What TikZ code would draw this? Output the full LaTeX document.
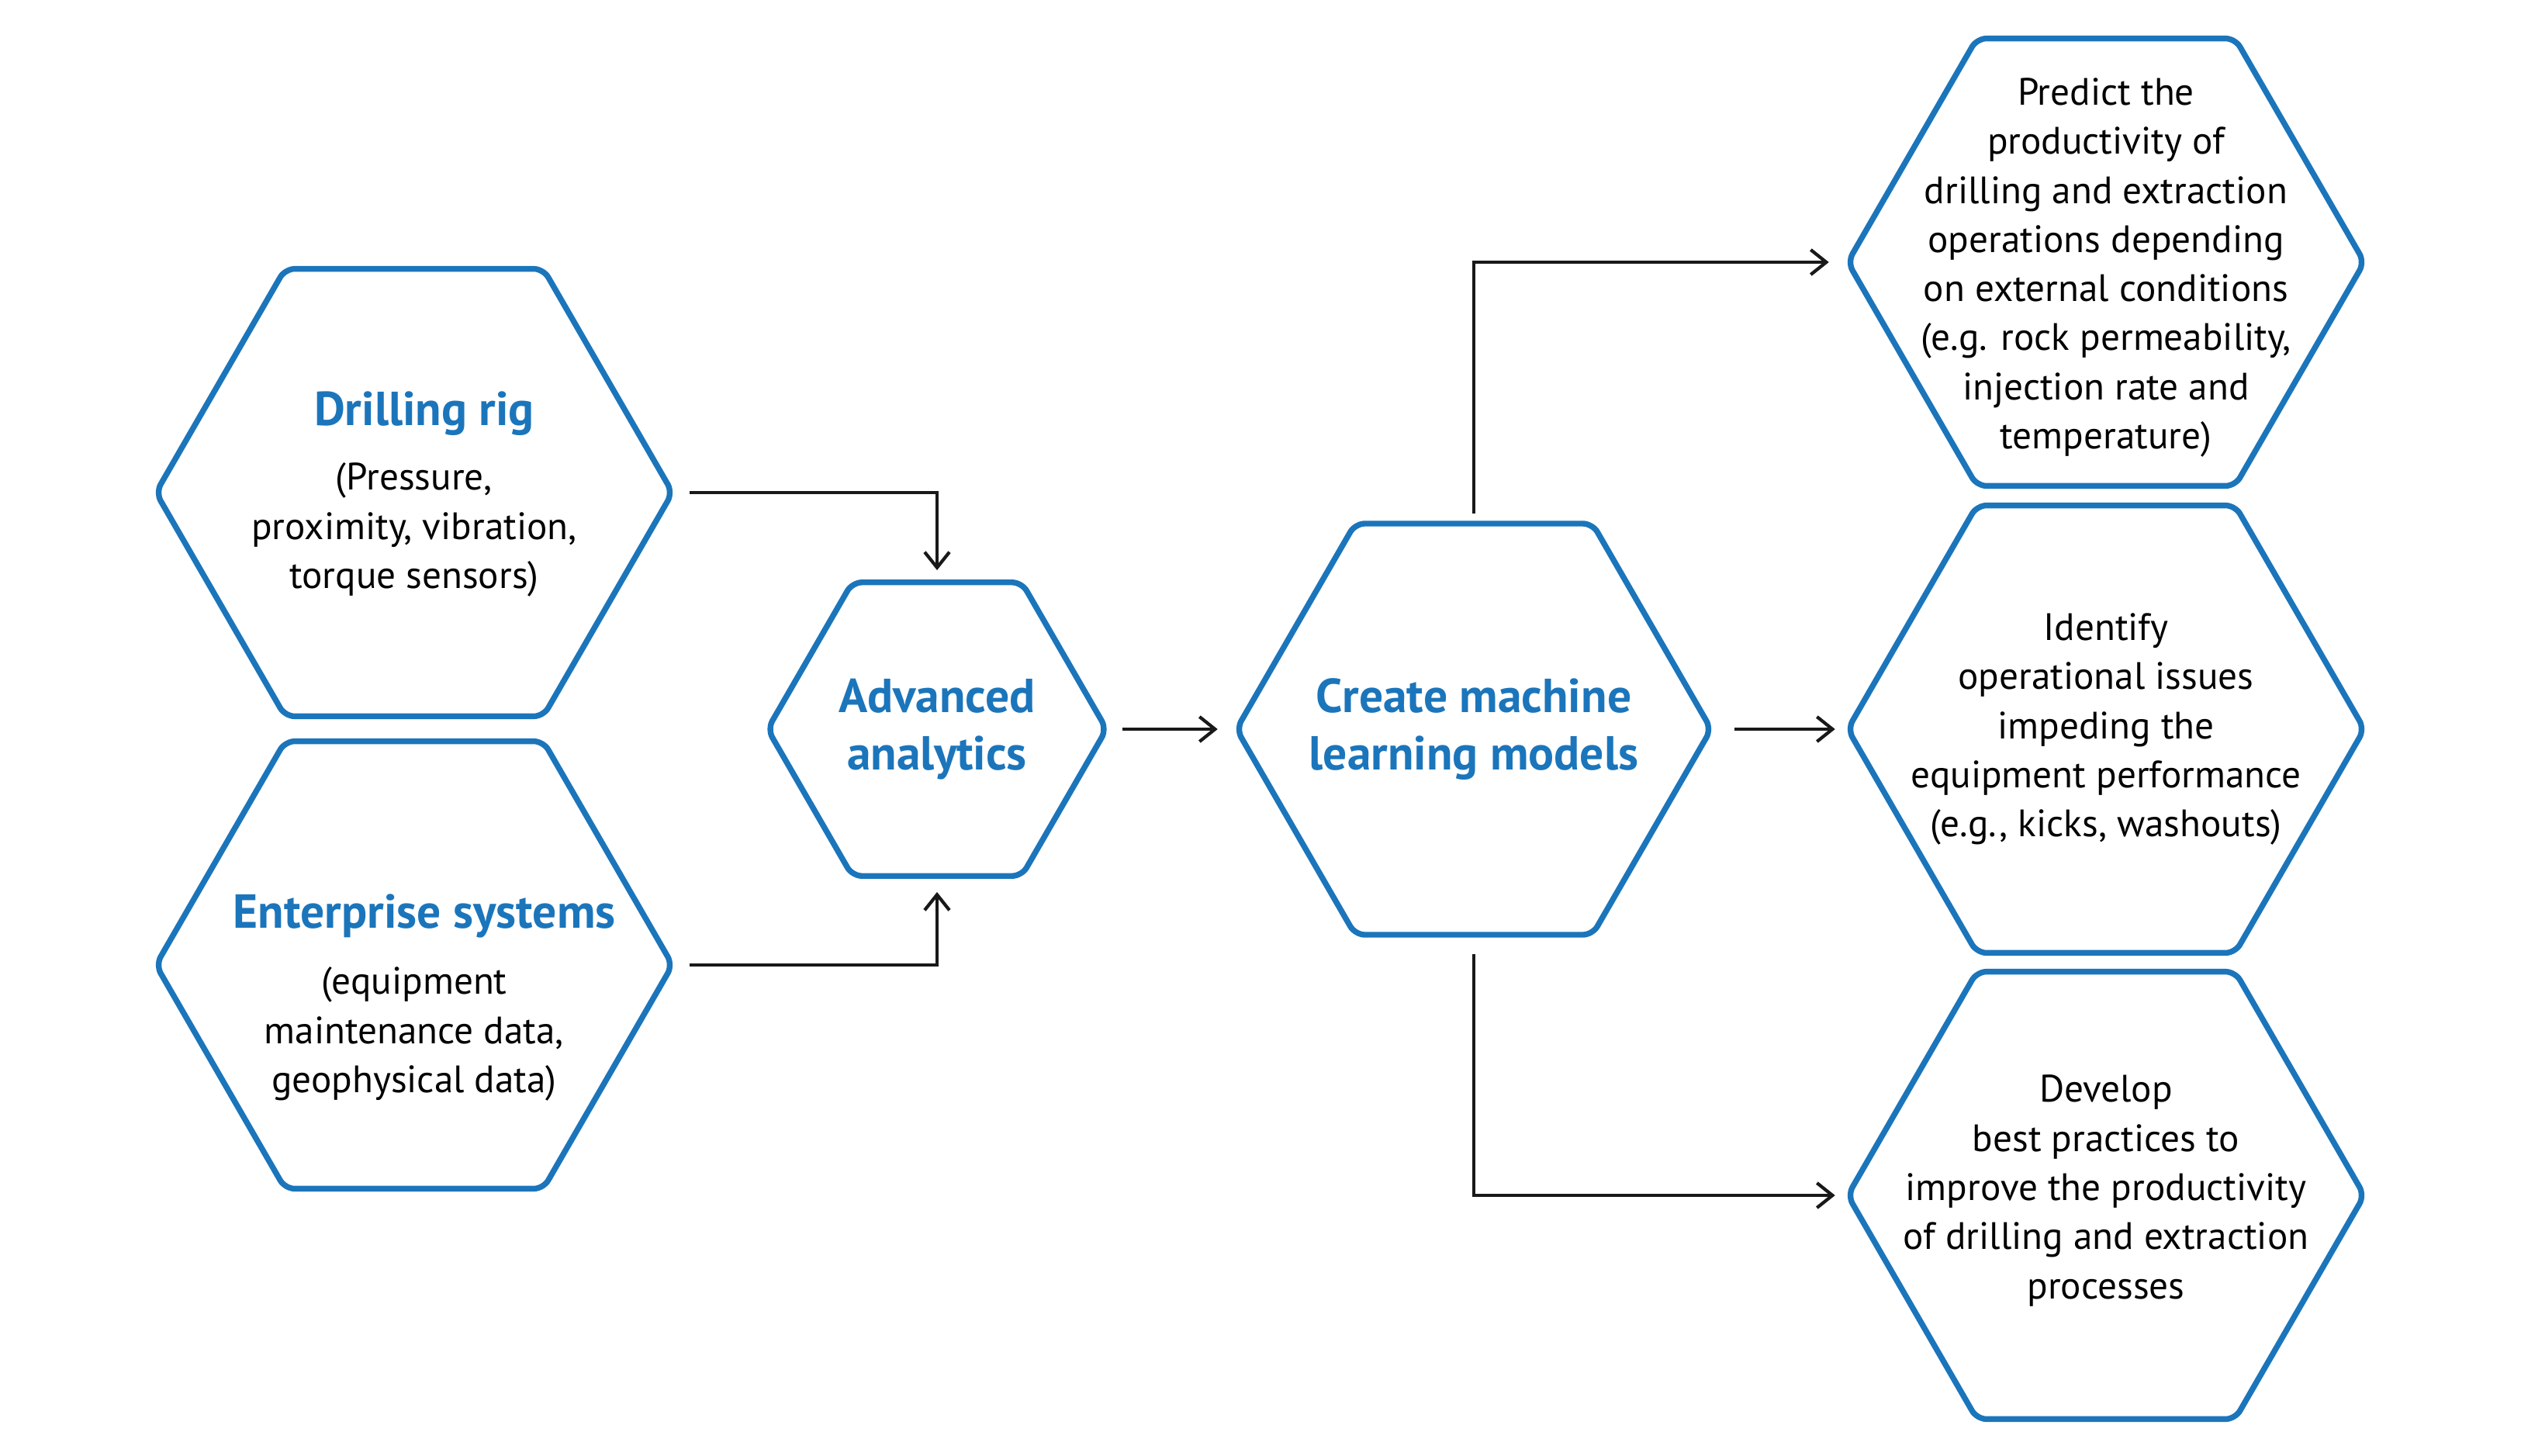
\documentclass[tikz,border=0pt]{standalone}
\usepackage{xcolor}
\usepackage{fontspec}
\setmainfont{PT Sans}
\usetikzlibrary{positioning, shapes.geometric, arrows.meta}
\definecolor{hexblue}{HTML}{1B75BB}

\begin{document}
\begin{tikzpicture}[
    hexbox/.style={regular polygon, regular polygon sides=6, draw=hexblue, line width=2.1pt, rounded corners=3.5pt, inner sep=0pt},
    headtext/.style={font=\fontsize{17.5}{21}\selectfont\bfseries, text=hexblue, align=center},
    bodytext/.style={font=\fontsize{14}{18}\selectfont, align=center},
    arrow/.style={-{Straight Barb[length=2mm, width=3.2mm]}, line width=1.2pt, black!90}
]
    \fill[white] (0,0) rectangle (32.5,-18.76);
    \useasboundingbox (0,0) rectangle (32.5,-18.76);

    % hexagons
    \node[hexbox, minimum size=6.66cm] (rig) at (5.34,-6.35) {};
    \node[hexbox, minimum size=6.66cm] (ent) at (5.34,-12.44) {};
    \node[hexbox, minimum size=4.37cm] (adv) at (12.08,-9.40) {};
    \node[hexbox, minimum size=6.12cm] (ml) at (19.00,-9.40) {};
    \node[hexbox, minimum size=6.66cm] (pred) at (27.15,-3.38) {};
    \node[hexbox, minimum size=6.66cm] (iss) at (27.15,-9.40) {};
    \node[hexbox, minimum size=6.66cm] (best) at (27.15,-15.41) {};

    % texts
    \node[headtext] (righead) at (5.47,-5.33) {Drilling rig};
    \node[bodytext] (rigtext) at (5.34,-6.83) {(Pressure,\\proximity, vibration,\\torque sensors)};
    \node[headtext] (enthead) at (5.47,-11.81) {Enterprise systems};
    \node[bodytext] (enttext) at (5.34,-13.33) {(equipment\\maintenance data,\\geophysical data)};
    \node[headtext] (advtext) at (adv.center) {Advanced\\analytics};
    \node[headtext] (mltext) at (ml.center) {Create machine\\learning models};
    \node[bodytext] (predtext) at (27.15,-3.45) {Predict the\\productivity of\\drilling and extraction\\operations depending\\on external conditions\\(e.g. rock permeability,\\injection rate and\\temperature)};
    \node[bodytext] (isstext) at (iss.center) {Identify\\operational issues\\impeding the\\equipment performance\\(e.g., kicks, washouts)};
    \node[bodytext] (besttext) at (27.15,-15.35) {Develop\\best practices to\\improve the productivity\\of drilling and extraction\\processes};

    % connectors
    \draw[arrow] ([xshift=1.8mm]rig.east) -| ([yshift=1.2mm]adv.north);
    \draw[arrow] ([xshift=1.8mm]ent.east) -| ([yshift=-1.7mm]adv.south);
    \draw[arrow] ([xshift=1.6mm]adv.east) -- ([xshift=-2mm]ml.west);
    \draw[arrow] ([yshift=0.9mm]ml.north) |- ([xshift=-2mm]pred.west);
    \draw[arrow] ([xshift=2.6mm]ml.east) -- ([xshift=-1.2mm]iss.west);
    \draw[arrow] ([yshift=-2.1mm]ml.south) |- ([xshift=-1.2mm]best.west);
\end{tikzpicture}
\end{document}
